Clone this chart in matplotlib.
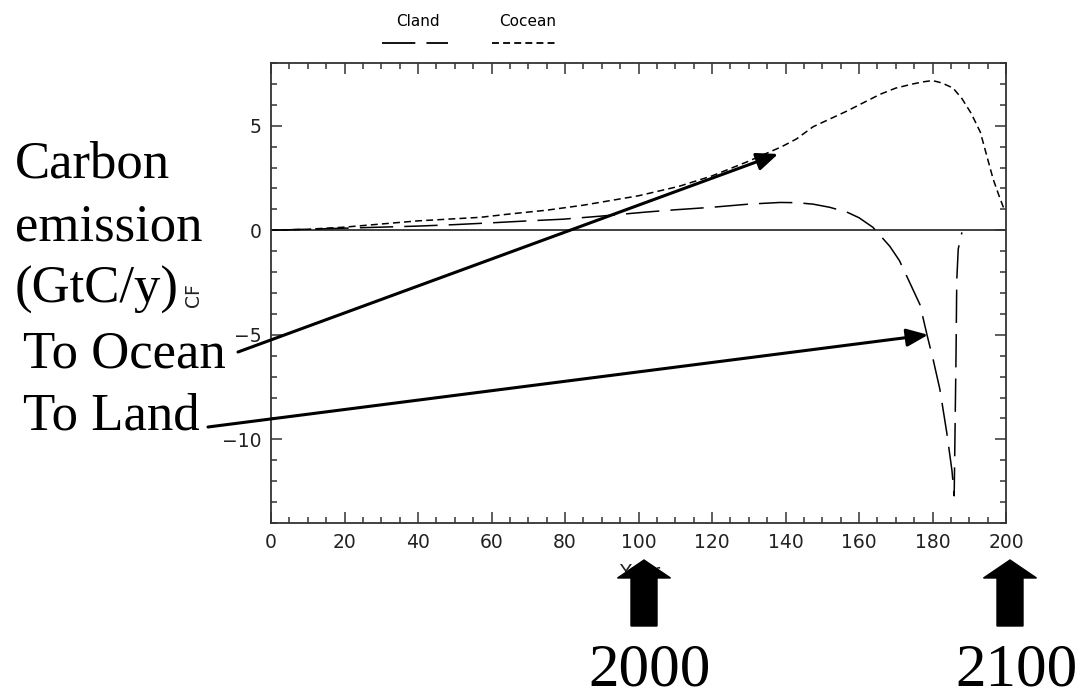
import numpy as np
import matplotlib
matplotlib.use('Agg')
import matplotlib.pyplot as plt
from matplotlib.lines import Line2D
from matplotlib.patches import FancyArrow
from matplotlib.ticker import MultipleLocator

# ============================================================
# Carbon flux (GtC/y) vs model year
# ============================================================
ano_oceano = [0, 10, 20, 30, 40, 50, 57, 65, 75, 85, 93, 100, 111, 120,
              129.5, 139, 143, 147.5, 156.7, 165.7, 170, 174.7, 177.5,
              180, 182.5, 185.6, 188, 190.5, 193, 196.5, 198, 199.5]
fluxo_oceano = [0, 0.05, 0.15, 0.3, 0.45, 0.55, 0.62, 0.78, 0.96, 1.2,
                1.44, 1.65, 2.1, 2.6, 3.27, 4.0, 4.37, 4.95, 5.7, 6.5,
                6.8, 7.0, 7.1, 7.16, 7.05, 6.8, 6.3, 5.6, 4.7, 2.45,
                1.7, 1.0]

ano_terra = [0, 10, 20, 30, 40, 50, 61.5, 70, 79.5, 90, 102, 110, 120,
             130, 138.5, 143, 147.5, 152, 156.7, 160, 163.8, 168.4, 171,
             173, 176.6, 178.5, 180.2, 182, 183.9, 185.3, 185.9, 186.4,
             186.6, 187.0, 188]
fluxo_terra = [0, 0.05, 0.1, 0.15, 0.2, 0.27, 0.37, 0.45, 0.53, 0.68,
               0.87, 0.98, 1.1, 1.25, 1.33, 1.32, 1.25, 1.1, 0.87, 0.6,
               0.14, -0.77, -1.45, -2.2, -3.56, -5.0, -6.2, -7.6, -9.7,
               -11.5, -12.7, -6.0, -2.4, -0.9, -0.1]

x_ticks = [0, 20, 40, 60, 80, 100, 120, 140, 160, 180, 200]
y_ticks = [-10, -5, 0, 5]

rotulos_esquerda = ['Carbon', 'emission', '(GtC/y)', 'To Ocean', 'To Land']
anos_reais = ['2000', '2100']

# ============================================================
# Figure setup (positions in pixels, origin top-left)
# ============================================================
W, H = 1086, 699
plt.rcParams['lines.scale_dashes'] = False
plt.rcParams['font.family'] = 'DejaVu Sans'

fig = plt.figure(figsize=(W / 100, H / 100), dpi=100)


def px(x, y):
    return x / W, 1 - y / H


ax = fig.add_axes([271 / W, 1 - 523 / H, (1006 - 271) / W, (523 - 63) / H])

cinza = '#333333'
ax.axhline(0, color=cinza, lw=1.3, zorder=1)
ax.plot(ano_terra, fluxo_terra, color='black', lw=1.1, dashes=(24, 8))
ax.plot(ano_oceano, fluxo_oceano, color='black', lw=1.1, dashes=(5, 3))

ax.set_xlim(0, 200)
ax.set_ylim(-14, 8)
ax.set_xticks(x_ticks)
ax.set_yticks(y_ticks)
ax.xaxis.set_minor_locator(MultipleLocator(5))
ax.yaxis.set_minor_locator(MultipleLocator(1))
ax.tick_params(which='both', direction='in', top=True, right=True,
               color=cinza, width=1.1)
ax.tick_params(which='major', length=8, labelsize=13.5, pad=7,
               labelcolor='#222222')
ax.tick_params(which='minor', length=4)
for sp in ax.spines.values():
    sp.set_color(cinza)
    sp.set_linewidth(1.3)

fig.text(*px(640, 573), 'Year', ha='center', va='center', fontsize=14,
         color='#222222')
fig.text(*px(194, 295), 'CF', ha='center', va='center', fontsize=13.5,
         rotation=90, color='#222222')

# ============================================================
# Legend above the plot
# ============================================================
fig.text(*px(418, 22), 'Cland', ha='center', va='center', fontsize=11)
fig.text(*px(528, 22), 'Cocean', ha='center', va='center', fontsize=11)
fig.add_artist(Line2D([382 / W, 448 / W], [1 - 43 / H] * 2,
                      transform=fig.transFigure, color='black', lw=1.3,
                      dashes=(24, 8)))
fig.add_artist(Line2D([492 / W, 555 / W], [1 - 43 / H] * 2,
                      transform=fig.transFigure, color='black', lw=1.3,
                      dashes=(5, 3)))

# ============================================================
# Left-hand text and pointer arrows
# ============================================================
serif = 'Liberation Serif'
bases = [177, 240, 303, 367, 430]
esquerdas = [15, 15, 15, 23, 23]
for texto, xb, yb in zip(rotulos_esquerda, esquerdas, bases):
    fig.text(*px(xb, yb), texto, ha='left', va='baseline', fontsize=38,
             family=serif)

seta = dict(arrowstyle='-|>,head_length=0.65,head_width=0.27', lw=2.2,
            color='black', shrinkA=0, shrinkB=0, mutation_scale=20)
ax.annotate('', xy=(138, 3.65), xycoords='data',
            xytext=(238, H - 352), textcoords='figure pixels',
            arrowprops=seta)
ax.annotate('', xy=(178.8, -5.0), xycoords='data',
            xytext=(208, H - 427), textcoords='figure pixels',
            arrowprops=seta)

# ============================================================
# Block arrows marking calendar years
# ============================================================
for xc, rotulo in zip([644, 1010], anos_reais):
    x0, y0 = px(xc, 626)
    fig.add_artist(FancyArrow(x0, y0, 0, 66 / H, width=26 / W,
                              head_width=53 / W, head_length=18 / H,
                              length_includes_head=True,
                              transform=fig.transFigure, color='black',
                              zorder=5))
    fig.text(*px(xc + 6, 685), rotulo, ha='center', va='baseline',
             fontsize=44, family=serif)

fig.savefig('out.png', dpi=100)
